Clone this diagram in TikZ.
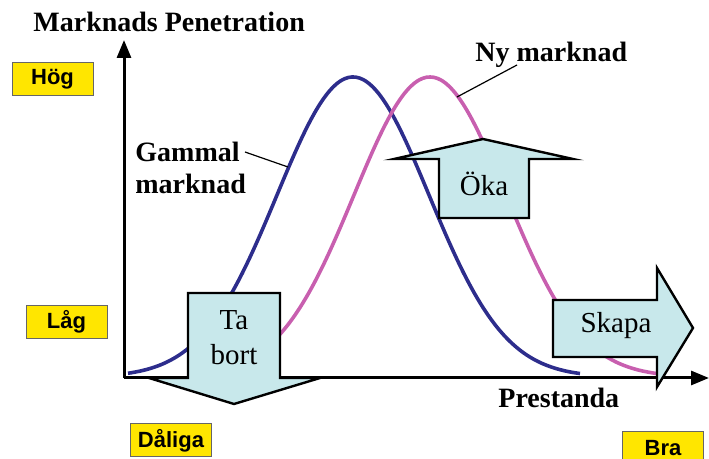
\documentclass[tikz,border=0pt]{standalone}
\usepackage{fontspec}
\setmainfont{Liberation Serif}
\newfontfamily\arialfont{Liberation Sans}
\usetikzlibrary{arrows.meta}

\definecolor{gammalblue}{RGB}{45,45,140}
\definecolor{nypink}{RGB}{200,95,175}
\definecolor{pilfill}{RGB}{200,232,235}
\definecolor{lvlyellow}{RGB}{255,230,0}

\begin{document}
\begin{tikzpicture}[x=0.5pt, y=-0.5pt,
			lvl/.style={draw=black!60, line width=0.5pt, fill=lvlyellow, inner sep=0pt,
				minimum width=40.5pt, minimum height=16.5pt, font=\arialfont\bfseries\fontsize{11}{12}\selectfont},
			lbl/.style={inner sep=0pt, align=left, font=\bfseries\fontsize{14}{16}\selectfont},
			pil/.style={draw, line width=1.2pt, fill=pilfill, line join=miter},
			ptxt/.style={inner sep=0pt, align=center, font=\fontsize{14.5}{17.5}\selectfont},
			axel/.style={line width=1.5pt, -{Triangle[length=9pt, width=7pt]}},
			kurva/.style={line width=1.8pt},
			led/.style={line width=0.6pt}
			]
			\useasboundingbox (0,0) rectangle (709,459);
			
			% axlar
			\coordinate (origo) at (124,378);
			\coordinate (ytop) at (124,40);
			\coordinate (xend) at (709,378);
			\draw[axel] (origo) -- (ytop);
			\draw[axel] (origo) -- (xend);
			
			% kurvor
			\draw[kurva, gammalblue] plot[domain=128:580, samples=120, smooth] (\x, {377-300*exp(-0.5*((\x-353)/76)^2)});
			\draw[kurva, nypink] plot[domain=206:658, samples=120, smooth] (\x, {377-300*exp(-0.5*((\x-430)/76)^2)});
			
			% pilar
			\draw[pil] (188,293) -- (280,293) -- (280,378) -- (320,378) -- (234,404) -- (149,378) -- (188,378) -- cycle;
			\draw[pil] (439,218) -- (439,159) -- (394,159) -- (483,139) -- (573,159) -- (529,159) -- (529,218) -- cycle;
			\draw[pil] (553,300) -- (657,300) -- (657,268) -- (693,328) -- (657,387) -- (657,357) -- (553,357) -- cycle;
			\node[ptxt] (tabort) at (234,338) {Ta\\bort};
			\node[ptxt] (oka) at (484,184) {Öka};
			\node[ptxt] (skapa) at (616,326) {Skapa};
			
			% nivåer
			\node[lvl] (hog) at (52.5,79.5) {Hög};
			\node[lvl] (lag) at (66.5,322) {Låg};
			\node[lvl] (daliga) at (171,440.5) {Dåliga};
			\node[lvl] (bra) at (663,448.5) {Bra};
			
			% texter
			\node[lbl, anchor=base west] (titel) at (33,32) {Marknads Penetration};
			\node[lbl, anchor=base west] (gammal) at (135,194) {Gammal\\marknad};
			\node[lbl, anchor=base west] (ny) at (475,62) {Ny marknad};
			\node[lbl, anchor=base west] (prestanda) at (498,408) {Prestanda};
			
			\coordinate (gstart) at (245,152);
			\coordinate (gkurva) at (288,167);
			\coordinate (nstart) at (517,65);
			\coordinate (nkurva) at (457,97);
			\draw[led] (gstart) -- (gkurva);
			\draw[led] (nstart) -- (nkurva);
	\end{tikzpicture}
\end{document}
